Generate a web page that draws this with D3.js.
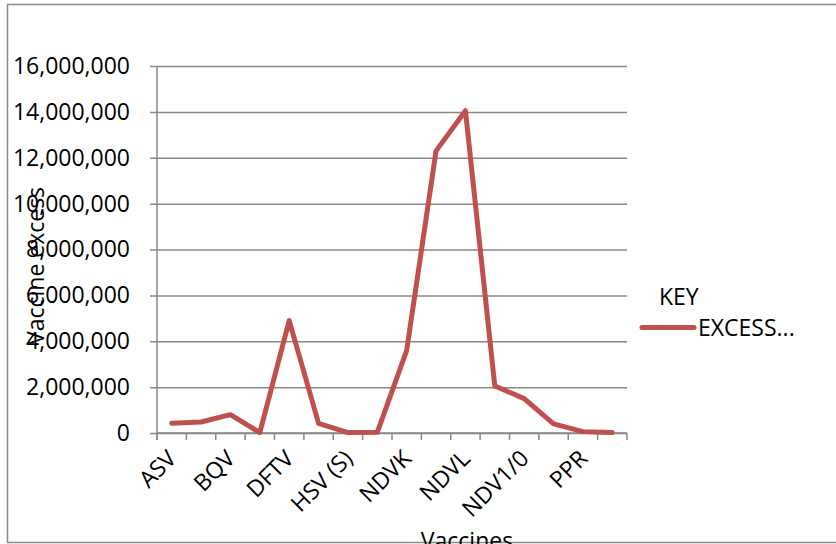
<!DOCTYPE html>
<html>
<head>
<meta charset="utf-8">
<script src="https://cdn.jsdelivr.net/npm/d3@7"></script>
<style>
  html, body { margin: 0; padding: 0; background: #fff; }
  svg { display: block; }
  text { font-family: "Open Sans", "Noto Sans", sans-serif; fill: #000; }
</style>
</head>
<body>
<svg id="chart" width="836" height="544"></svg>
<script>
// Vaccine categories (only every other one is labelled on the axis)
const categories = [
  "ASV", "", "BQV", "", "DFTV", "", "HSV (S)", "",
  "NDVK", "", "NDVL", "", "NDV1/0", "", "PPR", ""
];
// Excess doses per vaccine
const excessValues = [
  420000, 480000, 800000, 20000, 4900000, 420000, 20000, 30000,
  3600000, 12300000, 14050000, 2050000, 1500000, 400000, 60000, 20000
];
const yTicks = [0, 2000000, 4000000, 6000000, 8000000, 10000000, 12000000, 14000000, 16000000];
const seriesName = "EXCESS...";
const legendTitle = "KEY";

const svg = d3.select("#chart");
const plot = { left: 157, right: 627, top: 66, bottom: 433 };
const lineColor = "#c0504d";
const gridColor = "#898989";
const fontSize = 23;

// Outer chart frame
svg.append("rect")
  .attr("x", 7.5).attr("y", 4.5)
  .attr("width", 840).attr("height", 538)
  .attr("fill", "none").attr("stroke", "#8a8a8a").attr("stroke-width", 1.5);
svg.append("line")
  .attr("x1", 7).attr("x2", 836).attr("y1", 543.5).attr("y2", 543.5)
  .attr("stroke", "#e4e4e4");

const idx = d3.range(categories.length);
const x = d3.scaleBand().domain(idx).range([plot.left, plot.right]).padding(0);
const y = d3.scaleLinear().domain([0, 16000000]).range([plot.bottom, plot.top]);
const fmt = d3.format(",");

// Horizontal gridlines with outward tick marks
const yAxis = svg.append("g")
  .attr("transform", `translate(${plot.left},0)`)
  .call(d3.axisLeft(y).tickValues(yTicks).tickFormat(fmt)
    .tickSize(-(plot.right - plot.left)).tickPadding(27));
yAxis.select(".domain").remove();
yAxis.selectAll(".tick line")
  .attr("x1", -7).attr("stroke", gridColor).attr("stroke-width", 1.5);
yAxis.selectAll(".tick text")
  .attr("font-size", fontSize).attr("font-family", "'Open Sans', sans-serif").attr("fill", "#000");

// Vertical axis line
svg.append("line")
  .attr("x1", plot.left).attr("x2", plot.left)
  .attr("y1", plot.top).attr("y2", plot.bottom + 7)
  .attr("stroke", gridColor).attr("stroke-width", 1.5);

// Category axis: tick marks at band boundaries
const boundaries = d3.range(categories.length + 1).map(i => plot.left + i * x.bandwidth());
svg.append("g").selectAll("line").data(boundaries).join("line")
  .attr("x1", d => d).attr("x2", d => d)
  .attr("y1", plot.bottom).attr("y2", plot.bottom + 7)
  .attr("stroke", gridColor).attr("stroke-width", 1.5);
svg.append("line")
  .attr("x1", plot.left).attr("x2", plot.right)
  .attr("y1", plot.bottom).attr("y2", plot.bottom)
  .attr("stroke", gridColor).attr("stroke-width", 1.5);

// Rotated category labels
svg.append("g").selectAll("text")
  .data(idx.filter(i => categories[i] !== ""))
  .join("text")
  .attr("transform", i => `translate(${x(i) + x.bandwidth() / 2 + 6},${plot.bottom + 27}) rotate(-45)`)
  .attr("text-anchor", "end")
  .attr("font-size", fontSize)
  .text(i => categories[i]);

// Series line
const line = d3.line()
  .x((d, i) => x(i) + x.bandwidth() / 2)
  .y(d => y(d));
svg.append("path")
  .datum(excessValues)
  .attr("d", line)
  .attr("fill", "none")
  .attr("stroke", lineColor)
  .attr("stroke-width", 5)
  .attr("stroke-linejoin", "round")
  .attr("stroke-linecap", "round");

// Axis titles
svg.append("text")
  .attr("transform", "translate(44,266) rotate(-90)")
  .attr("text-anchor", "middle")
  .attr("font-size", fontSize)
  .text("Vaccine excess");
svg.append("text")
  .attr("x", 467).attr("y", 549)
  .attr("text-anchor", "middle")
  .attr("font-size", fontSize)
  .text("Vaccines");

// Legend
svg.append("text")
  .attr("x", 659).attr("y", 305)
  .attr("font-size", fontSize)
  .text(legendTitle);
svg.append("line")
  .attr("x1", 642).attr("x2", 694)
  .attr("y1", 327.5).attr("y2", 327.5)
  .attr("stroke", lineColor).attr("stroke-width", 5)
  .attr("stroke-linecap", "round");
svg.append("text")
  .attr("x", 698).attr("y", 336)
  .attr("font-size", fontSize)
  .text(seriesName);
</script>
</body>
</html>
